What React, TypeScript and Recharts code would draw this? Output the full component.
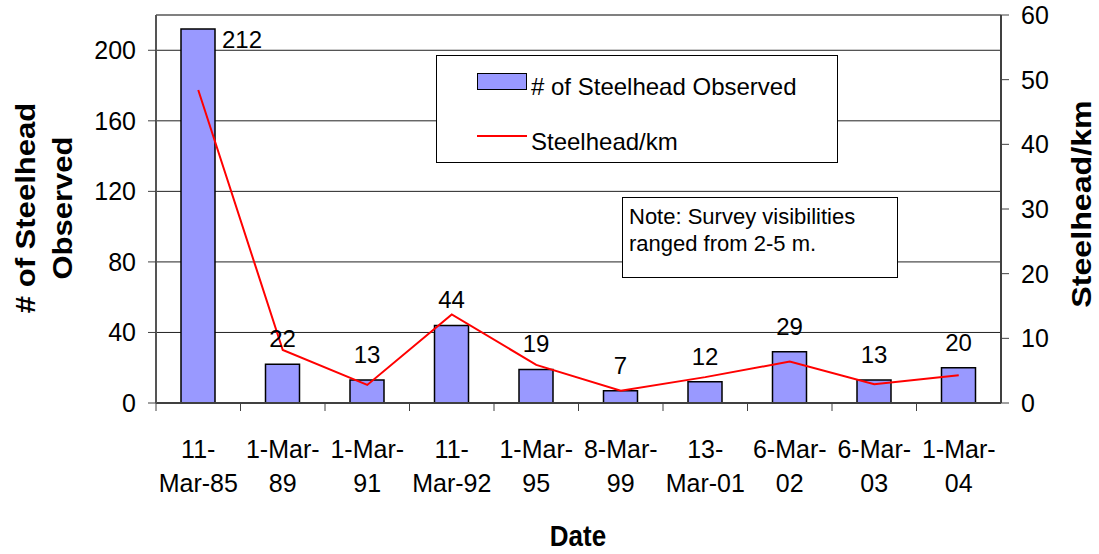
import React from "react";
import { Bar, CartesianGrid, ComposedChart, LabelList, Line, ReferenceLine, XAxis, YAxis } from "recharts";

const dates = ["11-Mar-85", "1-Mar-89", "1-Mar-91", "11-Mar-92", "1-Mar-95", "8-Mar-99", "13-Mar-01", "6-Mar-02", "6-Mar-03", "1-Mar-04"];
const observed = [212, 22, 13, 44, 19, 7, 12, 29, 13, 20];
const perKm = [48.4, 8.2, 2.8, 13.7, 5.9, 1.9, 4.0, 6.4, 2.9, 4.3];
const leftTicks = [0, 40, 80, 120, 160, 200];
const rightTicks = [0, 10, 20, 30, 40, 50, 60];

const data = dates.map((d, i) => ({ date: d, observed: observed[i], perKm: perKm[i] }));

const FONT = "'Liberation Sans', Arial, sans-serif";
const W = 1099;
const H = 554;
const PLOT_LEFT = 156;
const PLOT_RIGHT = 1001;
const PLOT_TOP = 15;
const PLOT_BOTTOM = 403;
const BAND = (PLOT_RIGHT - PLOT_LEFT) / dates.length;

// Excel wraps "11-Mar-85" as "11-" / "Mar-85" and "1-Mar-89" as "1-Mar-" / "89"
function wrapDate(s: string): [string, string] {
  const parts = s.split("-");
  if (parts[0].length > 1) return [parts[0] + "-", parts[1] + "-" + parts[2]];
  return [parts[0] + "-" + parts[1] + "-", parts[2]];
}

// the source image is a little stretched vertically, so titles get scaled along y
function Title({ x, y, rotate = 0, size, children }: any) {
  const t = rotate ? `translate(${x} ${y}) rotate(${rotate}) scale(1.15 1)` : `translate(${x} ${y}) scale(1 1.15)`;
  return (
    <text transform={t} textAnchor="middle" fontFamily={FONT} fontSize={size} fontWeight="bold" fill="#000">{children}</text>
  );
}

function DateTick(props: any) {
  const { x, payload } = props;
  const [a, b] = wrapDate(payload.value);
  const lx = x - BAND / 2;
  return (
    <g>
      <line x1={lx} x2={lx} y1={PLOT_BOTTOM} y2={PLOT_BOTTOM + 8} stroke="#404040" strokeWidth={1} />
      <text x={x} y={PLOT_BOTTOM + 55} textAnchor="middle" fontFamily={FONT} fontSize={25} fill="#000">{a}</text>
      <text x={x} y={PLOT_BOTTOM + 89} textAnchor="middle" fontFamily={FONT} fontSize={25} fill="#000">{b}</text>
    </g>
  );
}

function BarValue(props: any) {
  const { x, y, width, value, index } = props;
  if (index === 0) {
    return (
      <text x={x + width + 7} y={y + 19} fontFamily={FONT} fontSize={24} fill="#000">{value}</text>
    );
  }
  return (
    <text x={x + width / 2} y={y - 17} textAnchor="middle" fontFamily={FONT} fontSize={24} fill="#000">{value}</text>
  );
}

function LegendBox() {
  return (
    <div style={{ position: "absolute", left: 436, top: 55, width: 400, height: 106, border: "1px solid #000", background: "#fff", fontFamily: FONT, fontSize: 24, lineHeight: "24px", color: "#000" }}>
      <div style={{ position: "absolute", left: 40, top: 17, width: 48, height: 15, background: "#9999ff", border: "1.5px solid #000" }} />
      <div style={{ position: "absolute", left: 94, top: 19, whiteSpace: "nowrap" }}># of Steelhead Observed</div>
      <div style={{ position: "absolute", left: 40, top: 79, width: 50, height: 2, background: "#ff0000" }} />
      <div style={{ position: "absolute", left: 94, top: 74, whiteSpace: "nowrap" }}>Steelhead/km</div>
    </div>
  );
}

export default function App() {
  return (
    <div style={{ position: "absolute", left: 0, top: 0, width: W, height: H, background: "#fff" }}>
      <ComposedChart width={W} height={H} data={data} margin={{ top: PLOT_TOP, left: 96, right: 38, bottom: 51 }}>
        <CartesianGrid yAxisId="left" vertical={false} stroke="#222" strokeWidth={1} />
        <XAxis
          dataKey="date"
          tick={<DateTick />}
          tickLine={false}
          axisLine={{ stroke: "#404040", strokeWidth: 2 }}
          height={100}
          interval={0}
          label={() => <Title x={578} y={546} size={26}>Date</Title>}
        />
        <YAxis
          yAxisId="left"
          domain={[0, 220]}
          ticks={leftTicks}
          width={60}
          tickSize={8}
          tickMargin={12}
          tick={{ fontFamily: FONT, fontSize: 25, fill: "#000" }}
          tickLine={{ stroke: "#404040" }}
          axisLine={{ stroke: "#555", strokeWidth: 2 }}
          label={() => (
            <g>
              <Title x={35} y={208} rotate={-90} size={27}># of Steelhead</Title>
              <Title x={72} y={208} rotate={-90} size={27}>Observed</Title>
            </g>
          )}
        />
        <YAxis
          yAxisId="right"
          orientation="right"
          domain={[0, 60]}
          ticks={rightTicks}
          width={60}
          tickSize={8}
          tickMargin={12}
          tick={{ fontFamily: FONT, fontSize: 25, fill: "#000" }}
          tickLine={{ stroke: "#404040" }}
          axisLine={{ stroke: "#404040", strokeWidth: 2 }}
          label={() => <Title x={1091} y={204} rotate={-90} size={28}>Steelhead/km</Title>}
        />
        <ReferenceLine yAxisId="left" y={220} stroke="#808080" strokeWidth={2} />
        <Bar yAxisId="left" dataKey="observed" name="# of Steelhead Observed" fill="#9999ff" stroke="#000" strokeWidth={1.5} barSize={34} isAnimationActive={false}>
          <LabelList dataKey="observed" content={<BarValue />} />
        </Bar>
        <Line yAxisId="right" dataKey="perKm" name="Steelhead/km" type="linear" stroke="#ff0000" strokeWidth={2} dot={false} activeDot={false} isAnimationActive={false} />
      </ComposedChart>
      <LegendBox />
      <div style={{ position: "absolute", left: 622, top: 197, width: 276, height: 81, border: "1.5px solid #000", background: "#fff", fontFamily: FONT, fontSize: 22, color: "#000", lineHeight: "27px", padding: "5px 0 0 6px", boxSizing: "border-box", whiteSpace: "nowrap" }}>
        Note: Survey visibilities<br />ranged from 2-5 m.
      </div>
    </div>
  );
}
